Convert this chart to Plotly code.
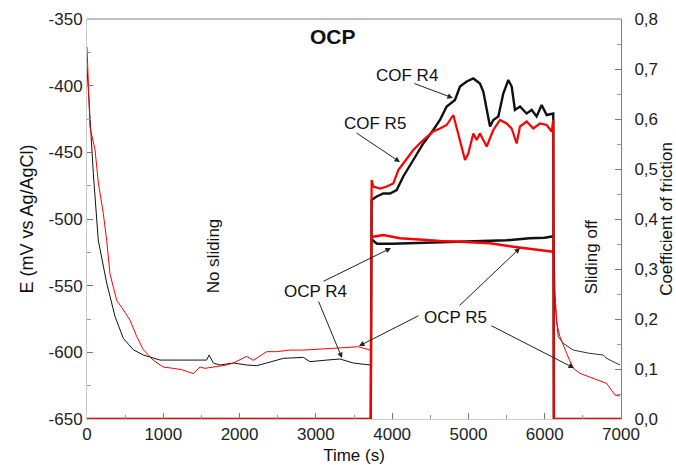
import plotly.graph_objects as go

# ---------------- data ----------------
# OCP R4 (black), potential in mV vs Ag/AgCl
ocp_r4_rest_t = [0, 31, 83, 148, 258, 367, 476, 607, 738, 957, 1263, 1568, 1600, 1656, 1743, 1918, 2093,
                 2224, 2355, 2574, 2836, 2923, 3142, 3316, 3491, 3710]
ocp_r4_rest_e = [-386, -416, -466, -516, -548, -573, -589.5, -598, -602, -605.8, -606, -605.8, -602, -608,
                 -609.5, -608, -609.5, -610, -608, -604.5, -603.8, -607, -605.8, -605, -608, -609.5]
ocp_r4_slide_t = [3725, 3800, 4000, 4300, 4600, 4900, 5200, 5500, 5800, 6000, 6112]
ocp_r4_slide_e = [-515, -518.5, -518.5, -518, -517.8, -517.5, -517, -516, -514.5, -514, -513]
ocp_r4_post_t = [6112, 6121, 6156, 6178, 6243, 6375, 6593, 6768, 6811, 6986]
ocp_r4_post_e = [-515.8, -553, -575.8, -588.3, -593.3, -598.3, -600.8, -602, -604.5, -609.5]

# OCP R5 (red)
ocp_r5_rest_t = [0, 39, 105, 149, 214, 258, 301, 389, 476, 564, 651, 738, 869, 1000, 1131, 1240, 1393,
                 1481, 1546, 1656, 1830, 1918, 2093, 2180, 2311, 2355, 2486, 2661, 2836, 3010, 3229,
                 3556, 3710]
ocp_r5_rest_e = [-371, -431, -448, -473, -496, -516, -541, -561, -568, -576, -588, -598, -606, -611,
                 -612, -613, -616, -611, -612, -611, -609.5, -608, -603, -606, -601, -599.5, -599.5,
                 -598.3, -598.3, -597.5, -597, -595.8, -598.3]
ocp_r5_slide_t = [3725, 3750, 3883, 4103, 4400, 4627, 4889, 5282, 5588, 5938, 6112]
ocp_r5_slide_e = [-514, -513.3, -512, -514.5, -515.5, -516.5, -517, -518.2, -520.8, -523.3, -524.5]
ocp_r5_post_t = [6121, 6134, 6156, 6200, 6287, 6375, 6462, 6637, 6811, 6921, 6986]
ocp_r5_post_e = [-515.8, -553, -578, -588.3, -600.8, -612, -615.8, -619.5, -623.3, -632, -632.8]

# Coefficient of friction R4 (black)
cof_r4_t = [0, 3720, 3731, 3797, 3884, 3972, 4059, 4146, 4277, 4408, 4539, 4627, 4715, 4824, 4889,
            4977, 5064, 5151, 5195, 5239, 5283, 5326, 5392, 5457, 5523, 5567, 5610, 5676, 5763,
            5829, 5894, 5960, 6026, 6112, 6120, 7000]
cof_r4 = [0, 0, 0.438, 0.445, 0.451, 0.451, 0.458, 0.485, 0.518, 0.551, 0.578, 0.598, 0.625, 0.638,
          0.665, 0.675, 0.681, 0.671, 0.655, 0.618, 0.585, 0.598, 0.605, 0.651, 0.678, 0.665, 0.618,
          0.625, 0.611, 0.618, 0.605, 0.628, 0.608, 0.611, 0, 0]

# Coefficient of friction R5 (red)
cof_r5_t = [0, 3720, 3731, 3753, 3841, 3928, 4015, 4081, 4146, 4277, 4408, 4539, 4627, 4715, 4802,
            4867, 4933, 4955, 4998, 5064, 5108, 5151, 5239, 5326, 5414, 5501, 5567, 5632, 5676,
            5763, 5850, 5938, 6026, 6091, 6112, 6120, 7000]
cof_r5 = [0, 0, 0.478, 0.465, 0.461, 0.465, 0.471, 0.498, 0.511, 0.538, 0.558, 0.575, 0.581, 0.588,
          0.608, 0.571, 0.531, 0.518, 0.531, 0.571, 0.558, 0.571, 0.545, 0.578, 0.598, 0.591, 0.581,
          0.551, 0.585, 0.595, 0.581, 0.591, 0.588, 0.575, 0.598, 0, 0]

x_ticks = [0, 1000, 2000, 3000, 4000, 5000, 6000, 7000]
y_ticks = [-650, -600, -550, -500, -450, -400, -350]
y_labels = ["-650", "-600", "-550", "-500", "-450", "-400", "-350"]
y2_ticks = [0, 0.1, 0.2, 0.3, 0.4, 0.5, 0.6, 0.7, 0.8]
y2_labels = ["0,0", "0,1", "0,2", "0,3", "0,4", "0,5", "0,6", "0,7", "0,8"]

BLACK = "#111111"
RED = "#ff0000"
FONT = "Liberation Sans, Arial, sans-serif"

fig = go.Figure()

def add(t, v, color, width, axis="y"):
    fig.add_trace(go.Scatter(x=t, y=v, mode="lines", yaxis=axis, showlegend=False,
                             line=dict(color=color, width=width), hoverinfo="skip"))

add(cof_r4_t, cof_r4, BLACK, 2.4, "y2")
add(cof_r5_t, cof_r5, RED, 2.2, "y2")
add(ocp_r4_rest_t, ocp_r4_rest_e, BLACK, 1)
add(ocp_r5_rest_t, ocp_r5_rest_e, RED, 1)
add(ocp_r4_slide_t, ocp_r4_slide_e, BLACK, 2.5)
add(ocp_r5_slide_t, ocp_r5_slide_e, RED, 2.5)
add(ocp_r4_post_t, ocp_r4_post_e, "#333333", 1)
add(ocp_r5_post_t, ocp_r5_post_e, RED, 1)

axis_common = dict(showgrid=False, zeroline=False, ticks="inside", tickcolor="#777777",
                   ticklen=6, tickwidth=1, showline=True, automargin=False,
                   tickfont=dict(family=FONT, size=17, color="#222222"))

fig.update_layout(
    width=676, height=465,
    margin=dict(l=87, r=55, t=19, b=46),
    paper_bgcolor="white", plot_bgcolor="white",
    font=dict(family=FONT, size=17, color="#111111"),
    xaxis=dict(range=[0, 7000], tickvals=x_ticks, linecolor="#cccccc", mirror=False,
               minor=dict(dtick=500, ticks="inside", ticklen=4, tickcolor="#999999"),
               title=dict(text="Time (s)", standoff=6, font=dict(size=17)),
               **axis_common),
    yaxis=dict(range=[-650, -350], tickvals=y_ticks, ticktext=y_labels, linecolor="#cccccc",
               minor=dict(dtick=25, ticks="inside", ticklen=4, tickcolor="#999999"),
               title=dict(text="E (mV vs Ag/AgCl)", standoff=10, font=dict(size=18)),
               **axis_common),
    yaxis2=dict(range=[0, 0.8], overlaying="y", side="right", tickvals=y2_ticks,
                ticktext=y2_labels, linecolor="#808080", ticklabelstandoff=9,
                minor=dict(dtick=0.05, ticks="inside", ticklen=4, tickcolor="#999999"),
                title=dict(text="Coefficient of friction", standoff=4, font=dict(size=17)),
                **axis_common),
)

# top frame line
fig.add_shape(type="line", xref="paper", yref="paper", x0=0, x1=1, y0=1, y1=1,
              line=dict(color="#808080", width=1))

def label(text, x, y, yref="y", angle=0, size=17):
    fig.add_annotation(text=text, xref="x", yref=yref, x=x, y=y, textangle=angle,
                       showarrow=False, font=dict(size=size, family=FONT, color="#111111"))

label("<b>OCP</b>", 3230, -363, size=21)
label("No sliding", 1652, -528, angle=-90)
label("Sliding off", 6606, -528, angle=-90)
label("COF R4", 4195, 0.688, "y2")
label("COF R5", 3775, 0.592, "y2")
label("OCP R4", 2989, -554)
label("OCP R5", 4824, -574)

def arrow(tx, ty, hx, hy, yref):
    fig.add_annotation(text="", x=hx, y=hy, ax=tx, ay=ty, xref="x", yref=yref,
                       axref="x", ayref=yref, showarrow=True, arrowhead=2, arrowsize=1.1,
                       arrowwidth=1, arrowcolor="#222222", standoff=0, startstandoff=0)

arrow(4273, 0.672, 4797, 0.642, "y2")
arrow(3513, 0.574, 4103, 0.514, "y2")
arrow(3080, -547.3, 3985, -521.8, "y")
arrow(3028, -560.8, 3343, -604.3, "y")
arrow(4365, -572, 3565, -595.3, "y")
arrow(4863, -566, 5676, -521.8, "y")
arrow(5282, -579.5, 6384, -611.8, "y")

fig.write_html("out.html")
